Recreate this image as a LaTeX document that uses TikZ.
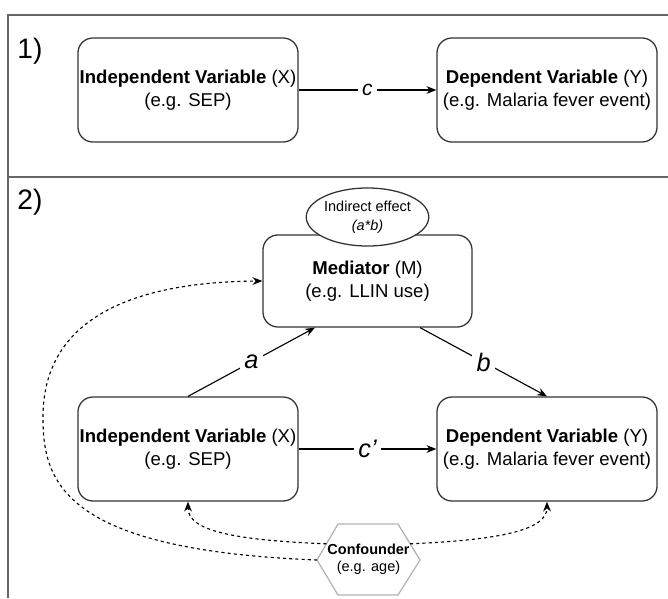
\documentclass[tikz,border=0pt]{standalone}
\usepackage{fontspec}
\setmainfont{Liberation Sans}
\usepackage{xcolor}
\usetikzlibrary{arrows.meta,shapes.geometric,calc}

\definecolor{framegray}{HTML}{666666}
\definecolor{boxline}{HTML}{333333}
\definecolor{hexgray}{HTML}{B3B3B3}

\tikzset{
  >={Stealth[length=7pt,width=5.5pt]},
  varbox/.style={draw=boxline, line width=0.9pt, rounded corners=0.375cm,
    minimum width=5.5cm, minimum height=2.6cm, inner sep=0pt,
    align=center, font=\fontsize{13.2}{16.1}\selectfont},
  pathlbl/.style={fill=white, inner sep=3pt, font=\fontsize{18}{21}\selectfont\itshape},
  confpath/.style={->, dash pattern=on 2.2pt off 2.2pt, line width=0.8pt},
}

\begin{document}
\begin{tikzpicture}[x=0.025cm, y=-0.025cm]
  \useasboundingbox (0,0) rectangle (668,598);

  %% frame
  \draw[framegray, line width=0.9pt] (668,15) -- (8,15) -- (8,598);
  \draw[framegray, line width=0.9pt] (8,177) -- (668,177);
  \node (num1) at (30,51)  {\fontsize{20}{24}\selectfont 1)};
  \node (num2) at (30,202) {\fontsize{20}{24}\selectfont 2)};

  %% total effect
  \node[varbox] (indep1) at (188,90) {\textbf{Independent Variable} (X)\\(e.g. SEP)};
  \node[varbox] (dep1)   at (547,90) {\textbf{Dependent Variable} (Y)\\(e.g. Malaria fever event)};
  \draw[->, line width=0.8pt] (indep1) -- node[pathlbl, font=\fontsize{15}{18}\selectfont\itshape] {c} (dep1);

  %% mediator
  \node[varbox, minimum width=5.225cm, minimum height=2.3cm] (med) at (367.5,281) {\textbf{Mediator} (M)\\(e.g. LLIN use)};
  \node[ellipse, draw=boxline, fill=white, line width=0.9pt, minimum width=2.625cm, minimum height=1.45cm,
    inner sep=0pt, align=center, font=\fontsize{10.3}{13.5}\selectfont] (indirect) at (367.5,217) {Indirect effect\\\textit{(a*b)}};

  %% direct effect
  \node[varbox] (indep2) at (188,449) {\textbf{Independent Variable} (X)\\(e.g. SEP)};
  \node[varbox] (dep2)   at (547,449) {\textbf{Dependent Variable} (Y)\\(e.g. Malaria fever event)};
  \draw[->, line width=0.8pt] (indep2) -- node[pathlbl] {c'} (dep2);

  \coordinate (medA) at ($(med.south west)!0.25!(med.south east)$);
  \coordinate (medB) at ($(med.south west)!0.75!(med.south east)$);
  \draw[->, line width=0.8pt] (indep2.north) -- node[pathlbl] {a} (medA);
  \draw[->, line width=0.8pt] (medB) -- node[pathlbl] {b} (dep2.north);

  %% confounder
  \coordinate (hexL)  at (317,560);
  \coordinate (hexTL) at (338,524);
  \coordinate (hexTR) at (398,524);
  \coordinate (hexR)  at (420,560);
  \coordinate (hexBR) at (398,595);
  \coordinate (hexBL) at (338,595);
  \draw[hexgray, line width=0.9pt] (hexL) -- (hexTL) -- (hexTR) -- (hexR) -- (hexBR) -- (hexBL) -- cycle;
  \node[align=center, font=\fontsize{10.3}{12}\selectfont] (conf) at (368.5,559) {\textbf{Confounder}\\(e.g. age)};

  \coordinate (confX) at ($(hexL)!0.45!(hexTL)$);
  \coordinate (confY) at ($(hexR)!0.45!(hexTR)$);
  \draw[confpath] (confX) .. controls (230,540) and (188,530) .. (indep2.south);
  \draw[confpath] (confY) .. controls (500,540) and (547,530) .. (dep2.south);
  \draw[confpath] (hexL) .. controls (60,550) and (43,480) .. (43,417)
                         .. controls (43,320) and (130,282) .. (med.west);
\end{tikzpicture}
\end{document}
